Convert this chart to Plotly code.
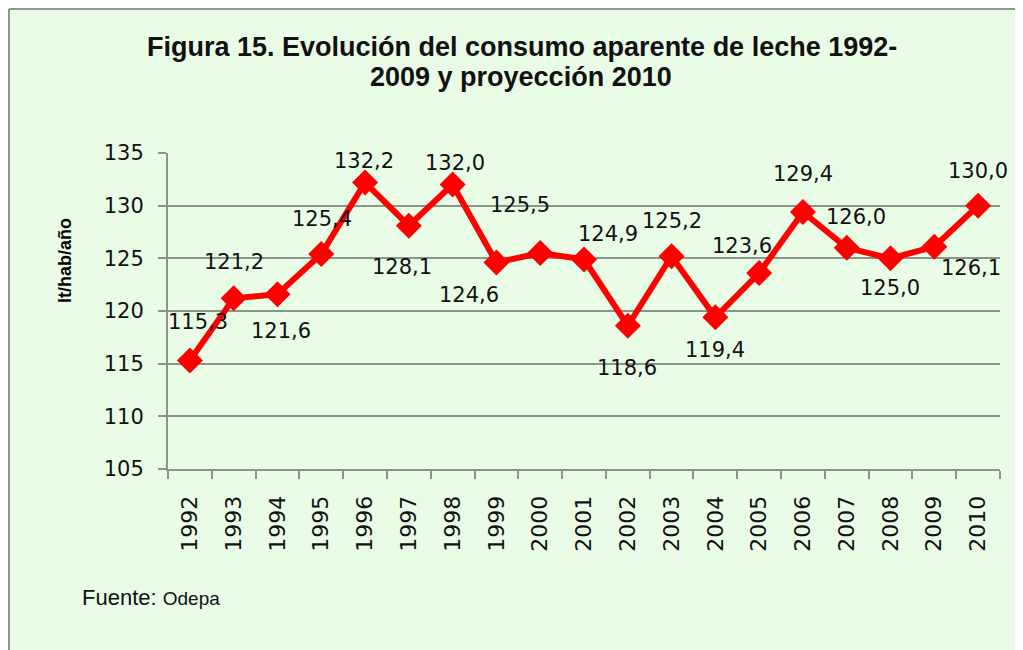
import plotly.graph_objects as go

years = ["1992", "1993", "1994", "1995", "1996", "1997", "1998", "1999", "2000", "2001",
         "2002", "2003", "2004", "2005", "2006", "2007", "2008", "2009", "2010"]
consumo = [115.3, 121.2, 121.6, 125.4, 132.2, 128.1, 132.0, 124.6, 125.5, 124.9,
           118.6, 125.2, 119.4, 123.6, 129.4, 126.0, 125.0, 126.1, 130.0]
labels = ["115,3", "121,2", "121,6", "125,4", "132,2", "128,1", "132,0", "124,6", "125,5", "124,9",
          "118,6", "125,2", "119,4", "123,6", "129,4", "126,0", "125,0", "126,1", "130,0"]

# label offsets in pixels (style only)
label_dx = [8, 0, 4, 1, -1, -7, 2, -27, -20, 24, -1, 0, 0, -17, 0, 9, -1, 37, 0]
label_dy = [39, 36, -37, 35, 21, -41, 22, -32, 48, 25, -42, 35, -33, 27, 38, 31, -30, -21, 35]

OFF = 8  # page body margin
W, H = 1023 - OFF, 650 - OFF
L, R, T, B = 168 - OFF, 23, 153 - OFF, 181
PW = W - L - R
PH = H - T - B


def px(x):
    return (x - OFF - L) / PW


def py(y):
    return (H - B - (y - OFF)) / PH


BG = "#E9FCE6"
AX = "#8A958A"
BORDER = "#8E968E"

fig = go.Figure()
fig.add_trace(go.Scatter(
    x=years, y=consumo, mode="lines+markers",
    line=dict(color="#FF0000", width=6),
    marker=dict(symbol="diamond", size=20, color="#FF0000"),
    hoverinfo="x+y", showlegend=False,
))

annotations = []
for i, (v, t, dx, dy) in enumerate(zip(consumo, labels, label_dx, label_dy)):
    annotations.append(dict(
        x=i, y=v, xref="x", yref="y", text=t, showarrow=False,
        xshift=dx, yshift=dy,
        font=dict(family="DejaVu Sans", size=21, color="#111111"),
    ))

annotations.append(dict(
    x=px(522), y=py(47), xref="paper", yref="paper",
    text="<b>Figura 15. Evolución del consumo aparente de leche 1992-</b>",
    showarrow=False, xanchor="center", yanchor="middle",
    font=dict(family="Liberation Sans, Arial", size=27, color="#111111"),
))
annotations.append(dict(
    x=px(521), y=py(77), xref="paper", yref="paper",
    text="<b>2009 y proyección 2010</b>",
    showarrow=False, xanchor="center", yanchor="middle",
    font=dict(family="Liberation Sans, Arial", size=27, color="#111111"),
))
annotations.append(dict(
    x=px(65), y=py(261), xref="paper", yref="paper",
    text="<b>lt/hab/año</b>", textangle=-90,
    showarrow=False, xanchor="center", yanchor="middle",
    font=dict(family="Liberation Sans, Arial", size=18, color="#000000"),
))
annotations.append(dict(
    x=px(80), y=py(597), xref="paper", yref="paper",
    text="Fuente: <span style='font-size:19px'>Odepa</span>",
    showarrow=False, xanchor="left", yanchor="middle",
    font=dict(family="Liberation Sans, Arial", size=22, color="#111111"),
))

fig.update_layout(
    width=W, height=H,
    margin=dict(l=L, r=R, t=T, b=B, pad=0),
    paper_bgcolor=BG,
    plot_bgcolor="rgba(0,0,0,0)",
    annotations=annotations,
    shapes=[
        dict(type="line", xref="paper", yref="paper", layer="below",
             x0=px(9), x1=px(9), y0=py(660), y1=py(9),
             line=dict(color=BORDER, width=2)),
        dict(type="line", xref="paper", yref="paper", layer="below",
             x0=px(9), x1=px(1030), y0=py(9), y1=py(9),
             line=dict(color=BORDER, width=2)),
    ],
    xaxis=dict(
        type="category", range=[-0.5, len(years) - 0.5],
        tickangle=-90, tickson="boundaries", ticks="outside", ticklen=8,
        tickcolor=AX, tickwidth=2, showline=True, linecolor=AX, linewidth=2,
        showgrid=False, zeroline=False,
        ticklabelstandoff=16,
        tickfont=dict(family="DejaVu Sans", size=22, color="#111111"),
    ),
    yaxis=dict(
        range=[105, 135], dtick=5, tick0=105,
        ticks="outside", ticklen=8, tickcolor=AX, tickwidth=2,
        showline=True, linecolor=AX, linewidth=2,
        showgrid=True, gridcolor=AX, gridwidth=2, zeroline=False,
        ticklabelstandoff=10,
        tickfont=dict(family="DejaVu Sans", size=21, color="#111111"),
    ),
)

fig.write_html("out.html")
